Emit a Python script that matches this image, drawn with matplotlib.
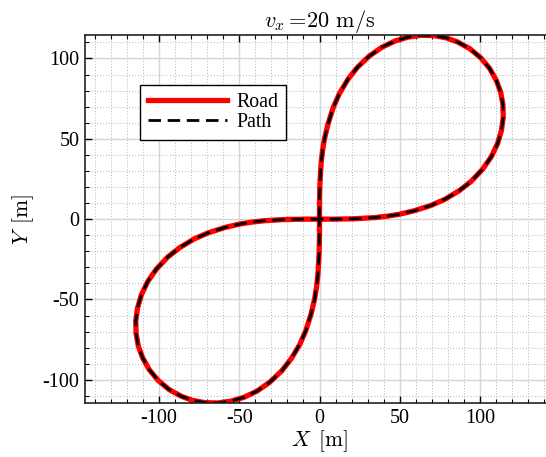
import matplotlib.pyplot as plt
from matplotlib.ticker import MultipleLocator

# Trayectoria en forma de ocho (m): lazo superior derecho y lazo inferior izquierdo
road_x = [0.0, 0.0, 0.1, 0.2, 0.5, 1.0, 1.8, 3.0, 5.2, 8.5, 12.3, 17.7, 23.5, 31.0, 38.9,
          47.1, 55.3, 63.4, 71.3, 79.0, 86.1, 93.7, 100.4, 106.0, 110.2, 112.8, 114.2, 114.4,
          113.3, 110.9, 107.0, 101.5, 94.4, 87.0, 78.0, 69.3, 58.9, 49.5, 41.9, 34.6, 26.5,
          20.5, 14.5, 8.4, 0.0,
          -8.4, -14.5, -20.5, -26.5, -34.6, -41.9, -49.5, -58.9, -69.3, -78.0, -87.0, -94.4,
          -101.5, -107.0, -110.9, -113.3, -114.4, -114.2, -112.8, -110.2, -106.0, -100.4,
          -93.7, -86.1, -79.0, -71.3, -63.4, -55.3, -47.1, -38.9, -31.0, -23.5, -17.7, -12.3,
          -8.5, -5.2, -3.0, -1.8, -1.0, -0.5, -0.2, -0.1, 0.0, 0.0]
road_y = [0.0, 8.4, 14.5, 20.5, 26.5, 34.6, 41.9, 49.5, 58.9, 69.3, 78.0, 87.0, 94.4, 101.5,
          107.0, 110.9, 113.3, 114.4, 114.2, 112.8, 110.2, 106.0, 100.4, 93.7, 86.1, 79.0,
          71.3, 63.4, 55.3, 47.1, 38.9, 31.0, 23.5, 17.7, 12.3, 8.5, 5.2, 3.0, 1.8, 1.0, 0.5,
          0.2, 0.1, 0.0, 0.0,
          0.0, -0.1, -0.2, -0.5, -1.0, -1.8, -3.0, -5.2, -8.5, -12.3, -17.7, -23.5, -31.0,
          -38.9, -47.1, -55.3, -63.4, -71.3, -79.0, -86.1, -93.7, -100.4, -106.0, -110.2,
          -112.8, -114.2, -114.4, -113.3, -110.9, -107.0, -101.5, -94.4, -87.0, -78.0, -69.3,
          -58.9, -49.5, -41.9, -34.6, -26.5, -20.5, -14.5, -8.4, 0.0]

# La trayectoria seguida coincide con la carretera
path_x = road_x
path_y = road_y

plt.rcParams['font.family'] = 'Liberation Serif'
plt.rcParams['mathtext.fontset'] = 'cm'
plt.rcParams['axes.unicode_minus'] = False

fig = plt.figure(figsize=(5.46, 4.57), dpi=100)
ax = fig.add_axes([85 / 546, 1 - 403.3 / 457, 469 / 546, 368.3 / 457])

ax.plot(road_x, road_y, color='red', lw=3.8, label='Road')
ax.plot(path_x, path_y, color='black', lw=2, dashes=(4.5, 2.4), label='Path')

ax.set_xlim(-146, 146)
ax.set_ylim(-114.6, 114.6)
for axis in (ax.xaxis, ax.yaxis):
    axis.set_major_locator(MultipleLocator(50))
    axis.set_minor_locator(MultipleLocator(10))

ax.grid(which='major', color='#d5d5d5', lw=1.0, ls='-')
ax.grid(which='minor', color='#b5b5b5', lw=0.7, ls=(0, (1, 2)))
ax.set_axisbelow(True)

ax.tick_params(which='both', direction='in', top=True, right=True, labelsize=14.5, pad=4)
ax.tick_params(which='major', length=5, width=1)
ax.tick_params(which='minor', length=3, width=0.8)
for s in ax.spines.values():
    s.set_linewidth(1.2)
    s.set_color('#222222')

ax.set_xlabel(r'$X\ \,[\mathrm{m}]$', fontsize=15.5, labelpad=0)
ax.set_ylabel(r'$Y\ \,[\mathrm{m}]$', fontsize=15.5, labelpad=5)
ax.set_title(r'$v_x=\!20\ \mathrm{m/s}$', fontsize=16, pad=4)

leg = ax.legend(loc='upper left', bbox_to_anchor=(0.117, 0.864), borderaxespad=0,
                fontsize=14.3, handlelength=4.0, handletextpad=0.45, borderpad=0.4,
                labelspacing=0.06, fancybox=False, framealpha=1, edgecolor='black')
leg.get_frame().set_linewidth(1.0)

fig.savefig('out.png', dpi=100)
